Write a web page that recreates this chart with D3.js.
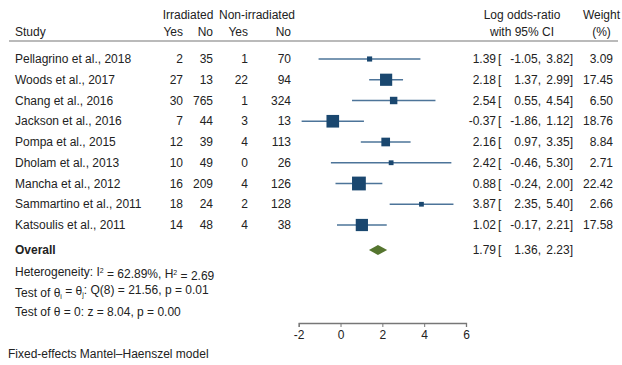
<!DOCTYPE html>
<html><head><meta charset="utf-8">
<script src="https://cdn.jsdelivr.net/npm/d3@7"></script>
<style>body{margin:0;background:#fff}svg{display:block}text{font-family:Arial,"Liberation Sans",sans-serif;font-size:12px;fill:#222}</style>
</head><body><svg id="c" width="622" height="365"></svg>
<script>
const studies=["Pellagrino et al., 2018","Woods et al., 2017","Chang et al., 2016","Jackson et al., 2016","Pompa et al., 2015","Dholam et al., 2013","Mancha et al., 2012","Sammartino et al., 2011","Katsoulis et al., 2011"];
const irrYes=[2,27,30,7,12,10,16,18,14];
const irrNo=[35,13,765,44,39,49,209,24,48];
const nonYes=[1,22,1,3,4,0,4,2,4];
const nonNo=[70,94,324,13,113,26,126,128,38];
const est=[1.39,2.18,2.54,-0.37,2.16,2.42,0.88,3.87,1.02];
const lo=[-1.05,1.37,0.55,-1.86,0.97,-0.46,-0.24,2.35,-0.17];
const hi=[3.82,2.99,4.54,1.12,3.35,5.30,2.00,5.40,2.21];
const weight=[3.09,17.45,6.50,18.76,8.84,2.71,22.42,2.66,17.58];
const overall={est:1.79,lo:1.36,hi:2.23};
const axisTicks=[-2,0,2,4,6];

const svg=d3.select("#c");
const x=d3.scaleLinear().domain([-2,6]).range([298.7,466]);
const y=d3.scaleLinear().domain([0,8]).range([59,225]);
const yOverall=250;
const size=d3.scaleSqrt().domain([0,22.42]).range([0,13.8]);
const f=v=>d3.format(".2f")(v).replace("\u2212","-");
const T=(xx,yy,s,anchor="start")=>svg.append("text").attr("x",xx).attr("y",yy).attr("dy","0.35em").attr("text-anchor",anchor).text(s);

// headers
T(188,15,"Irradiated","middle");
T(257,15,"Non-irradiated","middle");
T(15,32,"Study");
T(183,32,"Yes","end");T(213,32,"No","end");T(248,32,"Yes","end");T(291,32,"No","end");
T(522,15,"Log odds-ratio","middle");T(522,32,"with 95% CI","middle");
T(601.5,15,"Weight","middle");T(601.5,32,"(%)","middle");
svg.append("line").attr("x1",9).attr("x2",618).attr("y1",41).attr("y2",41).attr("stroke","#777").attr("stroke-width",1.2);

const estCols=(yy,e,l,h)=>{
  T(496,yy,f(e),"end");
  T(498,yy,"[");
  T(541,yy,f(l)+",","end");
  T(573,yy,f(h)+"]","end");
};

studies.forEach((s,i)=>{
  const yy=y(i);
  T(15,yy,s);
  T(183,yy,irrYes[i],"end");T(213,yy,irrNo[i],"end");T(248,yy,nonYes[i],"end");T(291,yy,nonNo[i],"end");
  svg.append("line").attr("x1",x(lo[i])).attr("x2",x(hi[i])).attr("y1",yy).attr("y2",yy).attr("stroke","#4d7499").attr("stroke-width",1.3);
  const w=size(weight[i]);
  svg.append("rect").attr("x",x(est[i])-w/2).attr("y",yy-w/2).attr("width",w).attr("height",w).attr("fill","#1a476f");
  estCols(yy,est[i],lo[i],hi[i]);
  T(613,yy,f(weight[i]),"end");
});

// overall
svg.append("text").attr("x",15).attr("y",yOverall).attr("dy","0.35em").style("font-weight","bold").text("Overall");
const dy=5;
svg.append("path").attr("d",`M${x(overall.lo)},${yOverall}L${x(overall.est)},${yOverall-dy}L${x(overall.hi)},${yOverall}L${x(overall.est)},${yOverall+dy}Z`).attr("fill","#55752f");
estCols(yOverall,overall.est,overall.lo,overall.hi);

const h=svg.append("text").attr("x",15).attr("y",271.5).attr("dy","0.35em");
h.append("tspan").text("Heterogeneity: I");
h.append("tspan").attr("dy","-0.45em").style("font-size","7px").text("2");
h.append("tspan").attr("dy","0.45em").text(" = 62.89%, H");
h.append("tspan").attr("dy","-0.45em").style("font-size","7px").text("2");
h.append("tspan").attr("dy","0.45em").text(" = 2.69");
const t1=svg.append("text").attr("x",15).attr("y",292.5).attr("dy","0.35em");
t1.append("tspan").text("Test of θ");
t1.append("tspan").attr("dy","0.3em").style("font-size","7px").text("i");
t1.append("tspan").attr("dy","-0.3em").text(" = θ");
t1.append("tspan").attr("dy","0.3em").style("font-size","7px").text("j");
t1.append("tspan").attr("dy","-0.3em").text(": Q(8) = 21.56, p = 0.01");
T(15,312,"Test of θ = 0: z = 8.04, p = 0.00");
T(8,354,"Fixed-effects Mantel–Haenszel model");

// axis
const ax=svg.append("g").attr("transform","translate(0,323)").call(d3.axisBottom(x).tickValues(axisTicks).tickSize(4).tickSizeOuter(4).tickFormat(d=>String(d)));
ax.select(".domain").attr("stroke","#777").attr("stroke-width",1.3);
ax.selectAll(".tick line").attr("stroke","#777");
ax.selectAll(".tick text").attr("fill","#222").style("font-size","12px").attr("y",7);
</script></body></html>
